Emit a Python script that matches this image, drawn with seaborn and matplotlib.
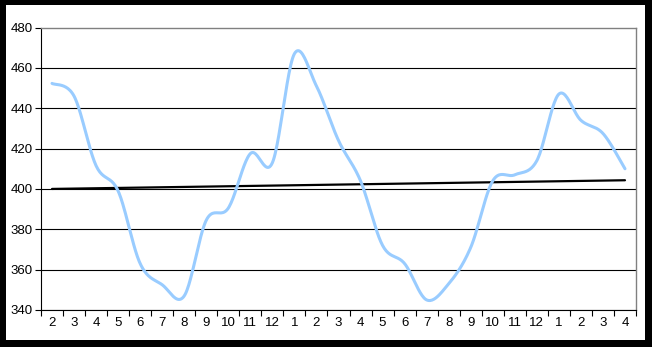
import numpy as np
import pandas as pd
import matplotlib
matplotlib.use("Agg")
import matplotlib.pyplot as plt
from matplotlib.patches import Rectangle
import seaborn as sns

# ---- data ----
month_labels = ["2", "3", "4", "5", "6", "7", "8", "9", "10", "11", "12",
                "1", "2", "3", "4", "5", "6", "7", "8", "9", "10", "11", "12",
                "1", "2", "3", "4"]
values = [452.3, 446, 411.5, 399, 363, 352.5, 347, 384.5, 390.5, 417.5, 413,
          467, 451, 424, 404, 372, 363, 345, 353, 371, 404, 407, 414,
          447, 434, 427.5, 410]
trend_start, trend_end = 400.0, 404.3
y_ticks = [340, 360, 380, 400, 420, 440, 460, 480]

sns.set_style("white")
plt.rcParams["font.family"] = ["Liberation Sans", "DejaVu Sans"]

x = np.arange(len(values), dtype=float)
y = np.array(values, dtype=float)


def smooth(xs, ys, n=24):
    # Excel-style smoothed line (cardinal Bezier through the data points)
    px, py = [], []
    m = len(xs)
    for i in range(m - 1):
        p0 = (xs[max(i - 1, 0)], ys[max(i - 1, 0)])
        p1 = (xs[i], ys[i])
        p2 = (xs[i + 1], ys[i + 1])
        p3 = (xs[min(i + 2, m - 1)], ys[min(i + 2, m - 1)])
        c1 = (p1[0] + (p2[0] - p0[0]) / 6, p1[1] + (p2[1] - p0[1]) / 6)
        c2 = (p2[0] - (p3[0] - p1[0]) / 6, p2[1] - (p3[1] - p1[1]) / 6)
        t = np.linspace(0, 1, n, endpoint=(i == m - 2))
        a = (1 - t) ** 3; b = 3 * (1 - t) ** 2 * t; c = 3 * (1 - t) * t ** 2; d = t ** 3
        px.extend(a * p1[0] + b * c1[0] + c * c2[0] + d * p2[0])
        py.extend(a * p1[1] + b * c1[1] + c * c2[1] + d * p2[1])
    return np.array(px), np.array(py)


sx, sy = smooth(x, y)
df_curve = pd.DataFrame({"x": sx, "y": sy})
df_trend = pd.DataFrame({"x": [x[0], x[-1]], "y": [trend_start, trend_end]})

W, H = 652, 347
fig = plt.figure(figsize=(W / 100, H / 100), dpi=100)
fig.patch.set_facecolor("black")
fig.add_artist(Rectangle((6 / W, 7 / H), (645 - 6) / W, (340 - 5) / H,
                         transform=fig.transFigure, facecolor="white",
                         edgecolor="none", zorder=-5))

ax = fig.add_axes([41 / W, 1 - 310 / H, (636 - 41) / W, (310 - 27.5) / H])
ax.set_facecolor("white")

sns.lineplot(data=df_trend, x="x", y="y", ax=ax, color="black", linewidth=1.6,
             zorder=3)
sns.lineplot(data=df_curve, x="x", y="y", ax=ax, color="#99CCFF", linewidth=2.2,
             sort=False, estimator=None, zorder=4)

ax.set_xlim(-0.5, len(values) - 0.5)
ax.set_ylim(340, 480)
ax.set_xlabel("")
ax.set_ylabel("")

# category axis: ticks between categories, labels at centres
ax.set_xticks(np.arange(-0.5, len(values) + 0.5, 1.0))
ax.set_xticklabels([])
ax.set_xticks(x, minor=True)
ax.set_xticklabels(month_labels, minor=True)
ax.tick_params(axis="x", which="major", direction="out", length=4, width=0.8,
               color="black", bottom=True)
ax.tick_params(axis="x", which="minor", length=0, pad=5, labelsize=9.5,
               labelcolor="black", bottom=True)

ax.set_yticks(y_ticks)
ax.set_yticklabels([str(v) for v in y_ticks])
ax.tick_params(axis="y", direction="out", length=4, width=0.8, color="black",
               pad=2, labelsize=9.5, labelcolor="black", left=True)

ax.yaxis.grid(True, color="black", linewidth=0.8)
ax.xaxis.grid(False)
ax.set_axisbelow(True)
gl = ax.get_ygridlines()
gl[-1].set_visible(False)

for side in ["left", "bottom"]:
    ax.spines[side].set_visible(True)
    ax.spines[side].set_color("black")
    ax.spines[side].set_linewidth(0.8)
for side in ["top", "right"]:
    ax.spines[side].set_visible(True)
    ax.spines[side].set_color("#808080")
    ax.spines[side].set_linewidth(1.0)

fig.savefig("out.png", dpi=100, facecolor=fig.get_facecolor())
